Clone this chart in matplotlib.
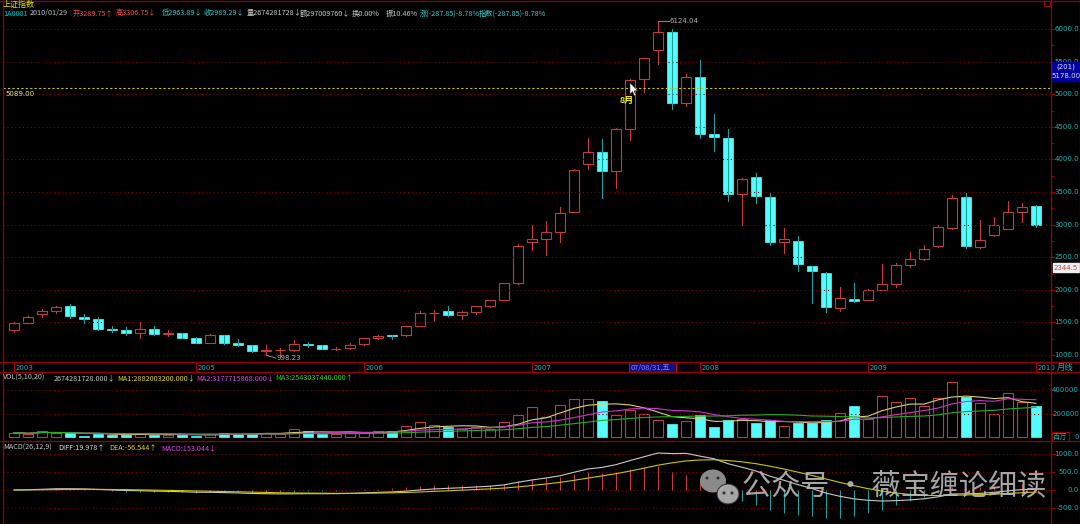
import numpy as np
import pandas as pd
import matplotlib
matplotlib.use('Agg')
import matplotlib.pyplot as plt
from matplotlib.patches import Rectangle, Polygon, Ellipse
from matplotlib.transforms import blended_transform_factory as btf

plt.rcParams['font.family'] = ['Noto Sans CJK SC', 'DejaVu Sans']

# ---------------- data (monthly, Dec 2003 .. Jan 2010) ----------------
months = pd.period_range('2003-12', '2010-01', freq='M').strftime('%Y-%m').tolist()

opens = [1380, 1492, 1628, 1680, 1750, 1590, 1556, 1400, 1386, 1343,
         1397, 1319, 1339, 1261, 1190, 1305, 1180, 1155, 1060, 1080,
         1083, 1162, 1155, 1093, 1100, 1163, 1260, 1299, 1300, 1440,
         1641, 1670, 1612, 1658, 1753, 1838, 2105, 2728, 2786, 2880,
         3196, 3935, 4110, 3820, 4471, 5231, 5683, 5960, 4868, 5265,
         4383, 4330, 3466, 3730, 3430, 2726, 2748, 2365, 2262, 1720,
         1858, 1849, 1995, 2082, 2375, 2477, 2670, 2948, 3423, 2660,
         2836, 2940, 3192, 3289.75]
highs = [1506, 1603, 1700, 1759, 1783, 1632, 1584, 1445, 1422, 1503,
         1440, 1382, 1341, 1270, 1329, 1307, 1244, 1156, 1146, 1107,
         1223, 1204, 1161, 1116, 1183, 1262, 1306, 1303, 1445, 1676,
         1690, 1758, 1675, 1758, 1840, 2100, 2698, 2994, 3050, 3275,
         3848, 4335, 4312, 4478, 5230, 5562, 6124.04, 6000, 5303, 5522,
         4695, 4473, 3715, 3786, 3485, 2952, 2825, 2370, 2270, 2043,
         2100, 2014, 2402, 2405, 2580, 2689, 2989, 3454, 3478, 3068,
         3123, 3361, 3338, 3306.75]
lows = [1355, 1492, 1580, 1643, 1570, 1494, 1380, 1350, 1301, 1260,
        1300, 1296, 1259, 1177, 1188, 1163, 1133, 1043, 998.23, 1004,
        1069, 1130, 1085, 1074, 1097, 1160, 1253, 1240, 1299, 1440,
        1520, 1599, 1557, 1635, 1736, 1836, 2095, 2610, 2541, 2726,
        3186, 3850, 3404, 3563, 4300, 5030, 5462, 4778, 4812, 4330,
        4123, 3357, 2990, 3333, 2693, 2566, 2284, 1802, 1664, 1678,
        1814, 1844, 1995, 2037, 2350, 2461, 2660, 2938, 2639, 2640,
        2825, 2930, 3039, 2963.89]
closes = [1497, 1590, 1675, 1742, 1595, 1555, 1399, 1386, 1342, 1396,
          1320, 1340, 1266, 1191, 1306, 1181, 1159, 1060, 1080, 1083,
          1162, 1155, 1092, 1099, 1161, 1258, 1299, 1298, 1440, 1641,
          1648, 1612, 1658, 1752, 1837, 2099, 2675, 2786, 2881, 3183,
          3841, 4109, 3820, 4471, 5218, 5552, 5954, 4871, 5262, 4383,
          4348, 3473, 3693, 3433, 2736, 2775, 2397, 2293, 1729, 1871,
          1821, 1991, 2082, 2373, 2477, 2632, 2959, 3412, 2667, 2770,
          2996, 3195, 3277, 2989.29]
volumes = [38000, 24000, 53000, 38000, 32000, 10000, 24000, 18000, 18000, 38000,
           18000, 18000, 15000, 10000, 29000, 32000, 29000, 24000, 38000, 29000,
           68000, 53000, 29000, 29000, 38000, 44000, 53000, 47000, 97000, 126000,
           106000, 82000, 68000, 88000, 68000, 126000, 191000, 259000, 171000, 274000,
           324000, 324000, 303000, 185000, 229000, 200000, 141000, 112000, 135000, 191000,
           88000, 141000, 156000, 118000, 147000, 97000, 118000, 118000, 141000, 206000,
           265000, 156000, 350000, 300000, 330000, 265000, 335000, 470000, 340000, 290000,
           200000, 375000, 300000, 267428]

year_idx = [0, 13, 25, 37, 49, 61, 73]
year_labels = ['2003', '2005', '2006', '2007', '2008', '2009', '2010']
price_ticks = [1000, 1500, 2000, 2500, 3000, 3500, 4000, 4500, 5000, 5500, 6000]
vol_ticks = [0, 200000, 400000]
macd_ticks = [-500, 0, 500, 1000]
hline_price = 5089.00
cursor_price = 2344.5
peak_idx, low_idx = 46, 18

# ---------------- indicators ----------------
cs = pd.Series(closes)
ema12 = cs.ewm(span=12, adjust=False).mean()
ema26 = cs.ewm(span=26, adjust=False).mean()
diff = ema12 - ema26
dea = diff.ewm(span=9, adjust=False).mean()
hist = 2 * (diff - dea)
vs = pd.Series(volumes)
ma5 = vs.rolling(5, min_periods=1).mean()
ma10 = vs.rolling(10, min_periods=1).mean()
ma20 = vs.rolling(20, min_periods=1).mean()

# ---------------- style ----------------
W, H = 1080, 524
RED = '#c43a3a'
CY = '#54fcfc'
CYW = '#1f9c9c'
FRAME = '#9a0000'
GRID = '#7a0000'
TXTC = '#18b4b4'
n = len(closes)
xi = np.arange(n)
XL = ((3 - 14) / 14, (1051 - 14) / 14)
bw = 0.72

fig = plt.figure(figsize=(W / 100, H / 100), dpi=100, facecolor='black')


def add_ax(x0, y0, x1, y1):
    a = fig.add_axes([x0 / W, 1 - y1 / H, (x1 - x0) / W, (y1 - y0) / H])
    a.set_facecolor('black')
    for s in a.spines.values():
        s.set_visible(False)
    a.set_xlim(*XL)
    a.set_xticks([])
    a.tick_params(axis='y', which='both', left=False, right=True, labelleft=False,
                  labelright=False, direction='out', color=FRAME, length=3, width=0.8)
    return a


def right_labels(a, vals, fmt):
    tr = btf(a.transAxes, a.transData)
    xr = (1079 - 3) / 1048
    for v in vals:
        a.text(xr, v, fmt(v), transform=tr, ha='right', va='center', color=TXTC,
               fontsize=5, family='DejaVu Sans', clip_on=False)


# ---- main price axes ----
ax = add_ax(3, 0, 1051, 362)
ax.set_ylim(1000 + (355 - 362) / 0.0652, 1000 + 355 / 0.0652)
ax.set_yticks(price_ticks)
ax.set_yticks(np.arange(1250, 6200, 500), minor=True)
ax.tick_params(axis='y', which='minor', length=2, right=True, left=False, color=FRAME)
for p in price_ticks:
    ax.axhline(p, color=GRID, lw=0.8, ls=(0, (1, 2.5)))
right_labels(ax, price_ticks, lambda v: f'{v:.1f}')

for i, (o, h, l, c) in enumerate(zip(opens, highs, lows, closes)):
    top, bot = max(o, c), min(o, c)
    if c >= o:
        ax.add_patch(Rectangle((i - bw / 2, bot), bw, top - bot, fill=False, ec=RED, lw=0.8))
        ax.plot([i, i], [top, h], color=RED, lw=0.8)
        ax.plot([i, i], [l, bot], color=RED, lw=0.8)
    else:
        ax.plot([i, i], [l, h], color=CYW, lw=0.8)
        ax.add_patch(Rectangle((i - bw / 2, bot), bw, max(top - bot, 8), fc=CY, ec=CY, lw=0.5))

ax.axhline(hline_price, color='#c8c800', lw=0.8, ls=(0, (2, 2)))
ax.text(0.002, hline_price - 40, f'{hline_price:.2f}', transform=btf(ax.transAxes, ax.transData),
        color='#e8e8a0', fontsize=5, family='DejaVu Sans', va='top')
# peak / low annotations
ax.plot([peak_idx, peak_idx + 0.75], [highs[peak_idx], highs[peak_idx]], color='#a0a0a0', lw=0.6)
ax.text(peak_idx + 0.8, highs[peak_idx], f'{highs[peak_idx]:.2f}', color='#b0b0b0', fontsize=5,
        family='DejaVu Sans', va='center')
ax.plot([low_idx, low_idx + 0.7], [lows[low_idx], lows[low_idx] - 45], color='#a0a0a0', lw=0.6)
ax.text(low_idx + 0.75, lows[low_idx] - 45, f'{lows[low_idx]:.2f}', color='#b0b0b0', fontsize=5,
        family='DejaVu Sans', va='center')

# ---- date strip ----
axd = add_ax(3, 362, 1051, 372)
axd.set_ylim(0, 1)
axd.tick_params(axis='y', right=False)
for i, lab in zip(year_idx, year_labels):
    axd.plot([i - 0.02, i - 0.02], [0, 1], color=FRAME, lw=0.8)
    axd.text(i + 0.08, 0.45, lab, color=TXTC, fontsize=5, family='DejaVu Sans', va='center')
axd.add_patch(Rectangle((44 - 0.05, 0.02), 3.35, 0.96, fc='#101080', ec='#c00000', lw=0.8))
axd.text(44 + 0.08, 0.45, '07/08/31,五', color='#8080ff', fontsize=5.3, va='center')

# ---- volume axes ----
axv = add_ax(3, 372, 1051, 440)
axv.set_ylim((437 - 440) / 23.5 * 200000, (437 - 372) / 23.5 * 200000)
axv.set_yticks(vol_ticks)
for v in vol_ticks[1:]:
    axv.axhline(v, color=GRID, lw=0.8, ls=(0, (1, 2.5)))
right_labels(axv, vol_ticks, lambda v: f'{v:d}')
for i, (o, c, v) in enumerate(zip(opens, closes, volumes)):
    if c >= o:
        axv.add_patch(Rectangle((i - bw / 2, 0), bw, v, fill=False, ec=RED, lw=0.8))
    else:
        axv.add_patch(Rectangle((i - bw / 2, 0), bw, v, fc=CY, ec=CY, lw=0.5))
axv.plot(xi, ma5, color='#d8d070', lw=0.8)
axv.plot(xi, ma10, color='#d030d0', lw=0.8)
axv.plot(xi, ma20, color='#20b020', lw=0.8)

# ---- MACD axes ----
axm = add_ax(3, 441, 1051, 524)
axm.set_ylim((490 - 524) * 500 / 18, (490 - 441) * 500 / 18)
axm.set_yticks(macd_ticks)
for v in macd_ticks:
    axm.axhline(v, color=GRID, lw=0.8, ls=(0, (1, 2.5)))
right_labels(axm, macd_ticks, lambda v: f'{v:.1f}')
axm.vlines(xi, 0, hist, colors=[RED if h >= 0 else CYW for h in hist], lw=0.8)
axm.plot(xi, diff, color='#c8c8c8', lw=0.8)
axm.plot(xi, dea, color='#c8c800', lw=0.8)

# ---- overlay for frame, headers, labels ----
ov = fig.add_axes([0, 0, 1, 1])
ov.set_xlim(0, W)
ov.set_ylim(H, 0)
ov.axis('off')
ov.patch.set_alpha(0)

lw1 = 0.9
for y in (0.5, 362, 372, 440.5, 523.5):
    ov.plot([0, W], [y, y], color=FRAME, lw=lw1)
for x in (2.5, 1051, 1079.5):
    ov.plot([x, x], [0, H], color=FRAME, lw=lw1)
ov.add_patch(Rectangle((1044, 1), 6, 5, fill=False, ec=FRAME, lw=0.7))

fs = 5.2
ov.text(3, 5, '上证指数', color='#e8e800', fontsize=5.8, va='center')
row2 = [(3, '1A0001', '#00c0c0'), (30, '2010/01/29', '#c0c0c0'),
        (73, '开3289.75↑', '#ff4848'), (116, '高3306.75↓', '#ff4848'),
        (162, '低2963.89↓', '#30d0d0'), (204, '收2989.29↓', '#30d0d0'),
        (247, '量2674281728↓', '#c8c8c8'), (300, '额297009760↓', '#c8c8c8'),
        (352, '换0.00%', '#c8c8c8'), (386, '振10.46%', '#c8c8c8'),
        (420, '涨(-287.85)-8.78%', '#30d0d0'), (479, '指数(-287.85)-8.78%', '#30d0d0')]
for x, t, c in row2:
    ov.text(x, 13.5, t, color=c, fontsize=fs, va='center')

vrow = [(3, 'VOL(5,10,20)', '#c8c8c8'), (54, '2674281728.000↓', '#c8c8c8'),
        (117, 'MA1:2882003200.000↓', '#e0d020'), (196, 'MA2:3177715868.000↓', '#e040e0'),
        (275, 'MA3:2543037440.000↑', '#30d030')]
for x, t, c in vrow:
    ov.text(x, 378, t, color=c, fontsize=fs, va='center')

mrow = [(3, 'MACD(26,12,9)', '#c8c8c8'), (58, 'DIFF:19.978↑', '#e0e0e0'),
        (109, 'DEA:-56.544↑', '#e0d020'), (161, 'MACD:153.044↓', '#e040e0')]
for x, t, c in mrow:
    ov.text(x, 448, t, color=c, fontsize=fs, va='center')

ov.text(1057, 367, '月线', color=TXTC, fontsize=6, va='center')
ov.add_patch(Rectangle((1052, 432), 17, 9, fill=False, ec=FRAME, lw=0.7))
ov.text(1053, 437, '百万', color=TXTC, fontsize=5.2, va='center')

# right boxes
ov.add_patch(Rectangle((1051.5, 62), 28, 19, fc='#0000a0', ec='#0000a0'))
ov.text(1066, 66.5, '(201)', color='#e0e0e0', fontsize=5, family='DejaVu Sans', ha='center', va='center')
ov.text(1066, 76, '5178.00', color='#e0e0e0', fontsize=5, family='DejaVu Sans', ha='center', va='center')
ov.add_patch(Rectangle((1053, 263), 27, 9, fc='#f0f0f0', ec='#f0f0f0'))
ov.text(1054, 267.5, f'{cursor_price:.1f}', color='#d04040', fontsize=5, family='DejaVu Sans', va='center')

# "8月" marker and cursor
ov.text(620, 100, '8月', color='#f0f000', fontsize=6.5, fontweight='bold', va='center')
ov.add_patch(Polygon([(630, 83), (630, 94), (632.5, 91.5), (634.5, 96), (636, 95.3),
                      (634, 91), (637.5, 90.5)], closed=True, fc='white', ec='#404040', lw=0.4))

# watermark
ov.add_patch(Ellipse((713, 481), 26, 23, fc='#9a9a9a', ec='none', alpha=0.9))
ov.add_patch(Ellipse((728, 494), 22, 20, fc='#b0b0b0', ec='#303030', lw=0.8, alpha=0.95))
for (cx, cy) in [(707, 478), (718, 478), (724, 493), (732, 493)]:
    ov.add_patch(Ellipse((cx, cy), 3, 3, fc='#303030', ec='none'))
ov.text(742, 487, '公众号 · 薇宝缠论细读', color='#b8b8b8', fontsize=21, va='center', alpha=0.9)

fig.savefig('out.png', dpi=100, facecolor='black')
